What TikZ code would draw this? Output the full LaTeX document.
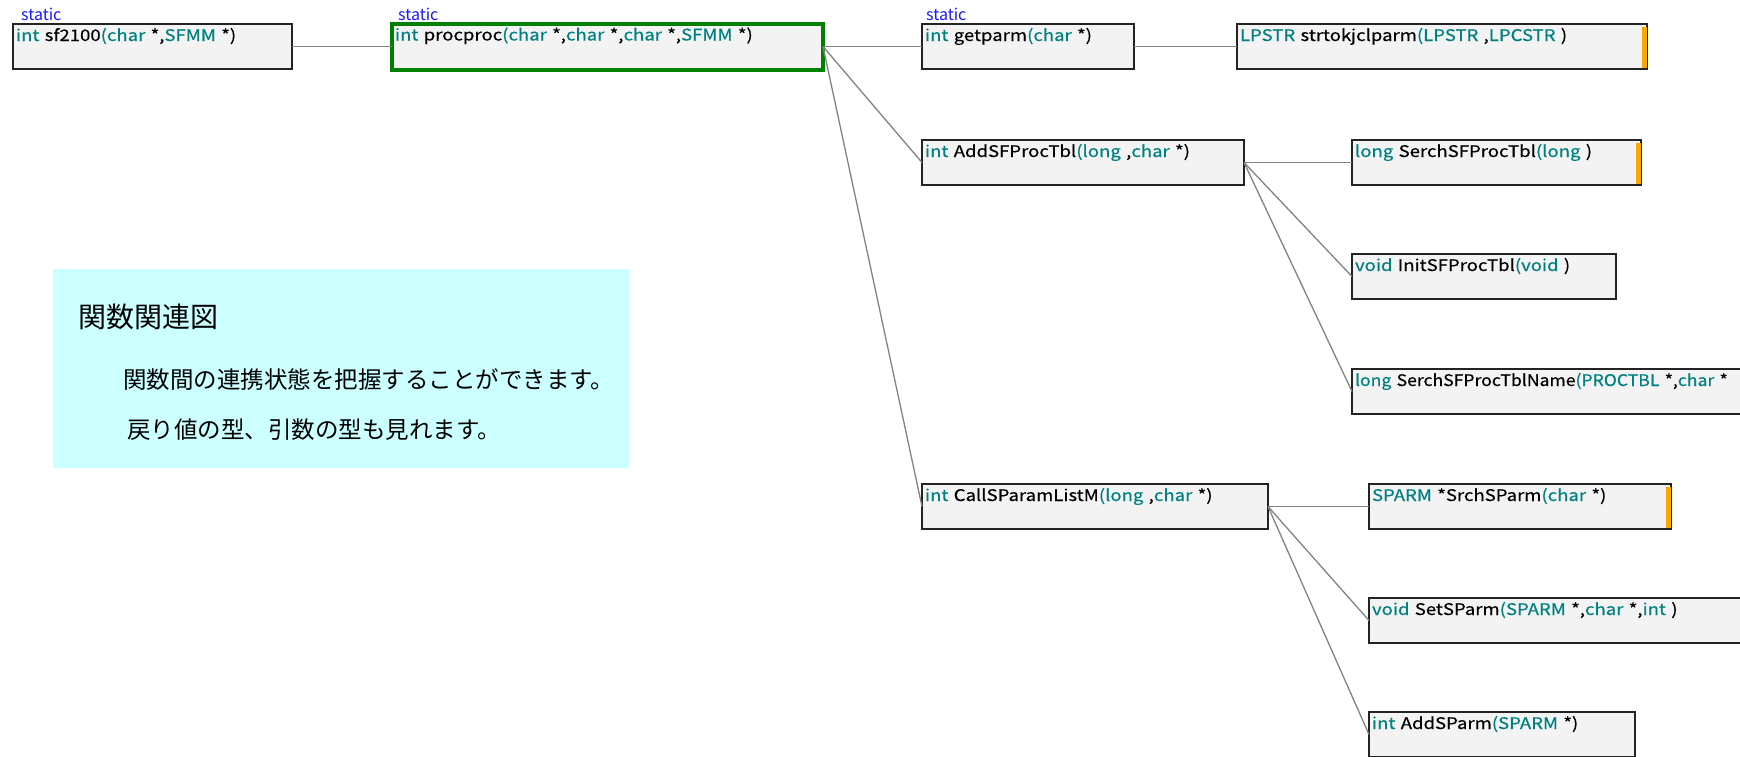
\documentclass[tikz,border=0pt]{standalone}
\usepackage{fontspec}
\setmainfont{Noto Sans CJK JP}
\newfontfamily\boxfont[FakeStretch=1.16,FakeBold=0.4]{Noto Sans CJK JP}
\newfontfamily\boxfontn[FakeStretch=1.1,FakeBold=0.4]{Noto Sans CJK JP}
\definecolor{tl}{RGB}{0,128,128}
\definecolor{stblue}{RGB}{25,25,255}
\definecolor{boxfill}{RGB}{243,243,243}
\definecolor{boxline}{RGB}{35,35,35}
\definecolor{panelc}{RGB}{204,255,255}
\definecolor{conn}{RGB}{130,130,130}
\definecolor{hl}{RGB}{0,128,0}
\definecolor{barc}{RGB}{255,165,0}
\newcommand\ty[1]{\textcolor{tl}{#1}}
\tikzset{
  fnbox/.style={draw=boxline, line width=1.3pt, fill=boxfill, anchor=north west,
    outer sep=0pt, inner xsep=3pt, inner ysep=0pt, text height=17pt, text depth=28pt,
    align=left, font=\boxfont\fontsize{16pt}{16pt}\selectfont, text width=#1},
  selbox/.style={fnbox=#1, draw=hl, line width=4pt},
  conline/.style={draw=conn, line width=1.3pt},
  statlabel/.style={anchor=base west, inner sep=0pt, text=stblue, font=\fontsize{16pt}{16pt}\selectfont},
  orbar/.style={fill=barc, draw=none},
  jtext/.style={anchor=west, inner sep=0pt, text=black},
}
\begin{document}
\begin{tikzpicture}[x=1pt, y=-1pt]
\path[use as bounding box] (0,0) rectangle (1740,756);
\clip (0,0) rectangle (1740,756);
% panel
\node[fill=panelc, anchor=north west, minimum width=576pt, minimum height=199pt, inner sep=0pt, outer sep=0pt] (panel) at (53,269) {};
\node[jtext, font=\fontsize{28pt}{28pt}\selectfont] (ttl) at (78,317) {関数関連図};
\node[jtext, font=\fontsize{23.5pt}{23.5pt}\selectfont] (l1) at (123,380) {関数間の連携状態を把握することができます。};
\node[jtext, font=\fontsize{23.5pt}{23.5pt}\selectfont] (l2) at (127,430) {戻り値の型、引数の型も見れます。};

% nodes
\node[fnbox=273pt] (sf) at (13,24) {\ty{int} sf2100\ty{(char} *,\ty{SFMM} *)};
\node[selbox=425pt, text depth=29pt] (pp) at (392,23.5) {\ty{int} procproc\ty{(char} *,\ty{char} *,\ty{char} *,\ty{SFMM} *)};
\node[fnbox=206pt] (gp) at (922,24) {\ty{int} getparm\ty{(char} *)};
\node[fnbox=404pt] (st) at (1237,24) {\ty{LPSTR} strtokjclparm\ty{(LPSTR} ,\ty{LPCSTR} )};
\node[fnbox=316pt] (ad) at (922,140) {\ty{int} AddSFProcTbl\ty{(long} ,\ty{char} *)};
\node[fnbox=283pt] (ss) at (1352,140) {\ty{long} SerchSFProcTbl\ty{(long} )};
\node[fnbox=258pt] (in) at (1352,254) {\ty{void} InitSFProcTbl\ty{(void} )};
\node[fnbox=500pt, font=\boxfontn\fontsize{16pt}{16pt}\selectfont] (sn) at (1352,369) {\ty{long} SerchSFProcTblName\ty{(PROCTBL} *,\ty{char} *};
\node[fnbox=340pt] (cl) at (922,484) {\ty{int} CallSParamListM\ty{(long} ,\ty{char} *)};
\node[fnbox=296pt] (sp) at (1369,484) {\ty{SPARM} *SrchSParm\ty{(char} *)};
\node[fnbox=500pt] (se) at (1369,598) {\ty{void} SetSParm\ty{(SPARM} *,\ty{char} *,\ty{int} )};
\node[fnbox=260pt] (as) at (1369,712) {\ty{int} AddSParm\ty{(SPARM} *)};

% connectors
\path[conline] (sf.east) -- (pp.west);
\path[conline] (pp.east) -- (gp.west);
\path[conline] (pp.east) -- (ad.west);
\path[conline] (pp.east) -- (cl.west);
\path[conline] (gp.east) -- (st.west);
\path[conline] (ad.east) -- (ss.west);
\path[conline] (ad.east) -- (in.west);
\path[conline] (ad.east) -- (sn.west);
\path[conline] (cl.east) -- (sp.west);
\path[conline] (cl.east) -- (se.west);
\path[conline] (cl.east) -- (as.west);

% orange bars
\path[orbar] ([xshift=-5pt,yshift=-3pt]st.north east) rectangle ([xshift=0.3pt,yshift=1.5pt]st.south east);
\path[orbar] ([xshift=-5pt,yshift=-3pt]ss.north east) rectangle ([xshift=0.3pt,yshift=1.5pt]ss.south east);
\path[orbar] ([xshift=-5pt,yshift=-3pt]sp.north east) rectangle ([xshift=0.3pt,yshift=1.5pt]sp.south east);

% static labels
\node[statlabel] (s1) at (21,20) {static};
\node[statlabel] (s2) at (398,20) {static};
\node[statlabel] (s3) at (926,20) {static};
\end{tikzpicture}
\end{document}
